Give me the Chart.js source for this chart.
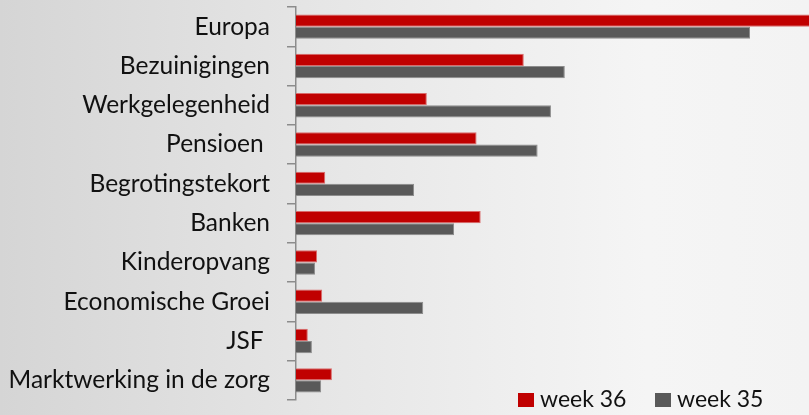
<!DOCTYPE html>
<html>
<head>
<meta charset="utf-8">
<script src="https://cdn.jsdelivr.net/npm/chart.js@4"></script>
<style>
  html, body { margin: 0; padding: 0; }
  body {
    width: 809px; height: 415px; overflow: hidden;
    background: linear-gradient(to right, #d5d5d5 0%, #e6e6e6 40%, #f5f5f5 80%, #f3f3f3 100%);
  }
  #wrap { position: relative; width: 809px; height: 415px; }
</style>
</head>
<body>
<div id="wrap"><canvas id="chart" width="809" height="415"></canvas></div>
<script>
// onderwerpen en scores per week
const categories = ['Europa', 'Bezuinigingen', 'Werkgelegenheid', 'Pensioen ', 'Begrotingstekort',
    'Banken', 'Kinderopvang', 'Economische Groei', 'JSF ', 'Marktwerking in de zorg'];
const week36 = [105, 44.4, 25.5, 35.2, 5.7, 36, 4.1, 5.1, 2.3, 7];
const week35 = [88.5, 52.4, 49.7, 47.1, 23, 30.8, 3.7, 24.8, 3.1, 4.9];
const seriesLabels = ['week 36', 'week 35'];

const fontFamily = 'Lato, "Open Sans", sans-serif';

// legend onderin rechts, over het plotvlak heen
const legendPlugin = {
    id: 'cornerLegend',
    afterDraw(chart) {
        const ctx = chart.ctx;
        const xs = [518, 655];
        ctx.save();
        ctx.font = '23px ' + fontFamily;
        ctx.textBaseline = 'middle';
        chart.data.datasets.forEach(function(ds, i) {
            ctx.fillStyle = ds.backgroundColor;
            ctx.fillRect(xs[i], 393, 16, 14);
            ctx.fillStyle = '#111';
            ctx.fillText(ds.label, xs[i] + 22, 400);
        });
        ctx.restore();
    }
};

new Chart(document.getElementById('chart'), {
    type: 'bar',
    data: {
        labels: categories,
        datasets: [
            {
                label: seriesLabels[0],
                data: week36,
                backgroundColor: '#c00000',
                borderColor: '#d96a6a',
                borderWidth: 1,
                categoryPercentage: 0.62,
                barPercentage: 1.0
            },
            {
                label: seriesLabels[1],
                data: week35,
                backgroundColor: '#595959',
                borderColor: '#8c8c8c',
                borderWidth: 1,
                categoryPercentage: 0.62,
                barPercentage: 1.0
            }
        ]
    },
    options: {
        indexAxis: 'y',
        responsive: false,
        animation: false,
        layout: { padding: { top: 7, bottom: 15, left: 0, right: 0 } },
        plugins: {
            legend: { display: false },
            tooltip: { enabled: false }
        },
        scales: {
            x: {
                min: 0,
                max: 100,
                display: false
            },
            y: {
                afterFit: function(scale) {
                    scale.width = 296;
                    scale.paddingTop = 0;
                    scale.paddingBottom = 0;
                },
                grid: {
                    drawOnChartArea: false,
                    drawTicks: true,
                    tickLength: 9,
                    color: '#8c8c8c',
                    lineWidth: 1.5
                },
                border: { display: true, color: '#8c8c8c', width: 1.5 },
                ticks: {
                    color: '#111',
                    padding: 17,
                    font: { family: fontFamily, size: 24.5 }
                }
            }
        }
    },
    plugins: [legendPlugin]
});
</script>
</body>
</html>
